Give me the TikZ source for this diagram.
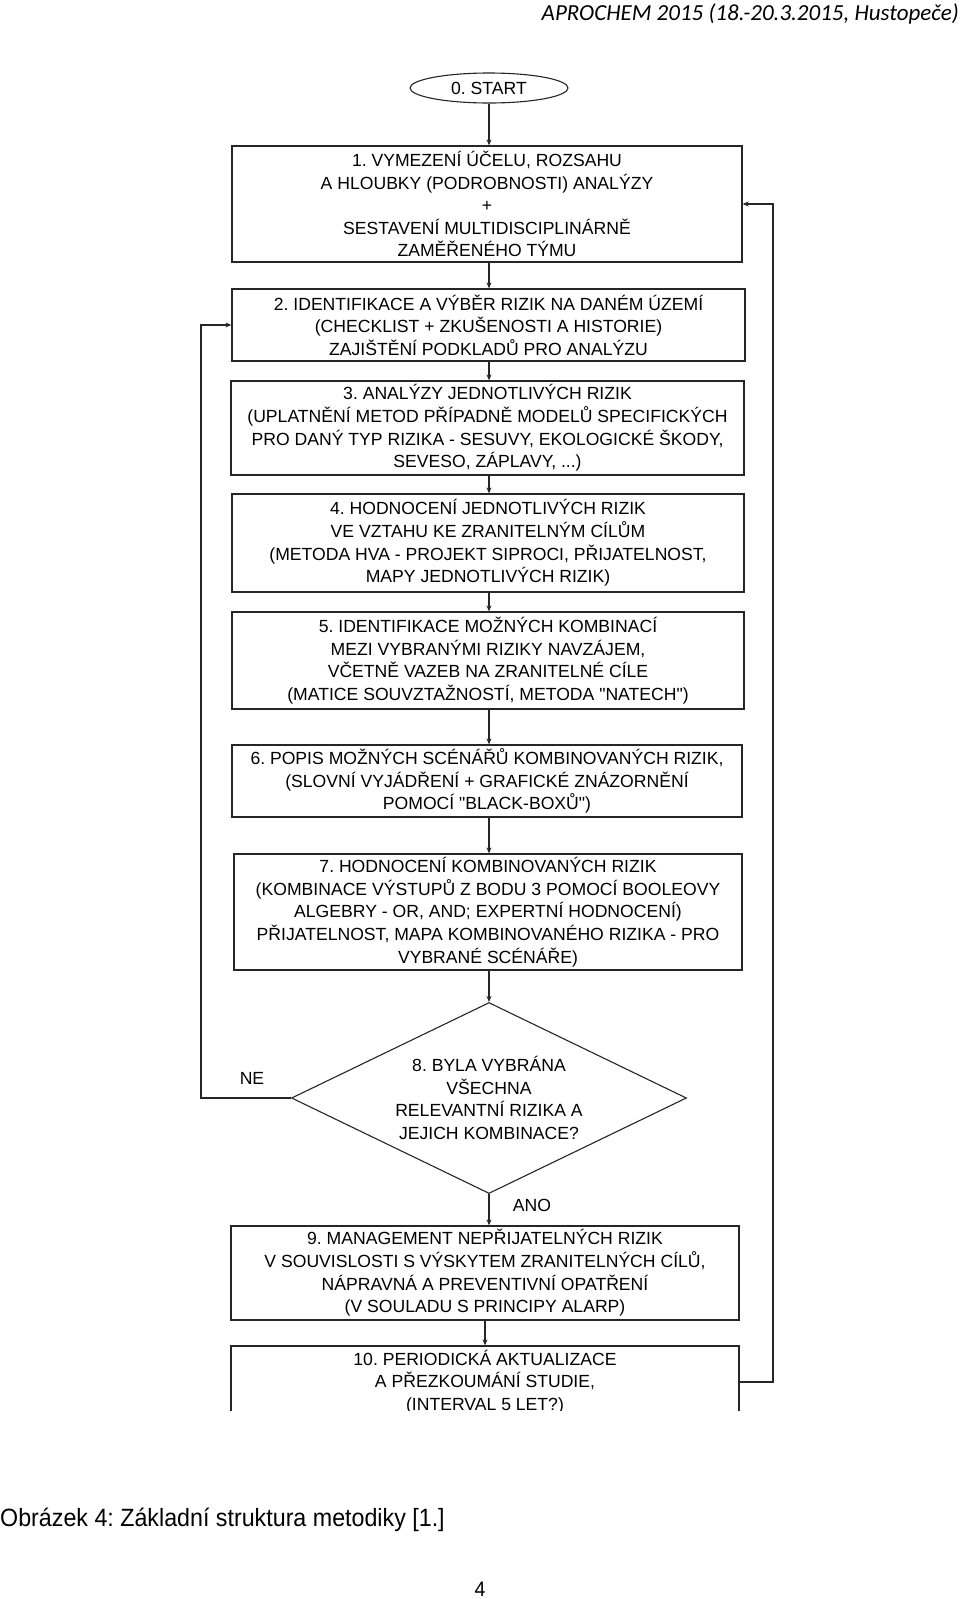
\documentclass[tikz,border=0pt]{standalone}
\usepackage{fontspec}
\setmainfont{Liberation Sans}
\newfontfamily\boxfont{Liberation Sans}
\newfontfamily\capfont[FakeStretch=0.93]{Liberation Sans}
\newfontfamily\hdrfont{Carlito}
\usetikzlibrary{shapes.geometric,arrows.meta}
\frenchspacing
\begin{document}
\begin{tikzpicture}[x=1pt,y=-1pt,
  stepbox/.style={draw=black!85,line width=1.3pt,rectangle,inner sep=0pt,align=center,
     font=\boxfont\fontsize{17.6}{22.6}\selectfont},
  lbl/.style={font=\boxfont\fontsize{17.6}{22.6}\selectfont,inner sep=0pt},
  arr/.style={draw=black!85,line width=1.1pt,-{Stealth[length=6pt,width=5pt]}},
  lin/.style={draw=black!85,line width=1.1pt}]
\fill[white] (0,0) rectangle (960,1599);
\useasboundingbox (0,0) rectangle (960,1599);

\node[anchor=base east,inner sep=0pt,font=\hdrfont\itshape\fontsize{23}{26}\selectfont] (hdr) at (959,20.5) {APROCHEM 2015 (18.-20.3.2015, Hustopeče)};

\begin{scope}
\clip (0,0) rectangle (960,1410);
\node[draw=black!85,line width=1.1pt,ellipse,minimum width=158pt,minimum height=30pt,inner sep=0pt,
  font=\boxfont\fontsize{17.6}{22.6}\selectfont] (start) at (489,88) {0. START};

\node[stepbox,minimum width=510pt,minimum height=116pt] (b1) at (487,204)
 {1. VYMEZENÍ ÚČELU, ROZSAHU\\A HLOUBKY (PODROBNOSTI) ANALÝZY\\+\\SESTAVENÍ MULTIDISCIPLINÁRNĚ\\ZAMĚŘENÉHO TÝMU};
\node[stepbox,minimum width=513pt,minimum height=72pt] (b2) at (488.5,325)
 {2. IDENTIFIKACE A VÝBĚR RIZIK NA DANÉM ÚZEMÍ\\(CHECKLIST + ZKUŠENOSTI A HISTORIE)\\ZAJIŠTĚNÍ PODKLADŮ PRO ANALÝZU};
\node[stepbox,minimum width=513pt,minimum height=94pt] (b3) at (487.5,428)
 {3. ANALÝZY JEDNOTLIVÝCH RIZIK\\(UPLATNĚNÍ METOD PŘÍPADNĚ MODELŮ SPECIFICKÝCH\\PRO DANÝ TYP RIZIKA - SESUVY, EKOLOGICKÉ ŠKODY,\\SEVESO, ZÁPLAVY, ...)};
\node[stepbox,minimum width=512pt,minimum height=98pt] (b4) at (488,543)
 {4. HODNOCENÍ JEDNOTLIVÝCH RIZIK\\VE VZTAHU KE ZRANITELNÝM CÍLŮM\\(METODA HVA - PROJEKT SIPROCI, PŘIJATELNOST,\\MAPY JEDNOTLIVÝCH RIZIK)};
\node[stepbox,minimum width=512pt,minimum height=97pt] (b5) at (488,660.5)
 {5. IDENTIFIKACE MOŽNÝCH KOMBINACÍ\\MEZI VYBRANÝMI RIZIKY NAVZÁJEM,\\VČETNĚ VAZEB NA ZRANITELNÉ CÍLE\\(MATICE SOUVZTAŽNOSTÍ, METODA \symbol{34}NATECH\symbol{34})};
\node[stepbox,minimum width=510pt,minimum height=72pt] (b6) at (487,781)
 {6. POPIS MOŽNÝCH SCÉNÁŘŮ KOMBINOVANÝCH RIZIK,\\(SLOVNÍ VYJÁDŘENÍ + GRAFICKÉ ZNÁZORNĚNÍ\\POMOCÍ \symbol{34}BLACK-BOXŮ\symbol{34})};
\node[stepbox,minimum width=508pt,minimum height=116pt] (b7) at (488,912)
 {7. HODNOCENÍ KOMBINOVANÝCH RIZIK\\(KOMBINACE VÝSTUPŮ Z BODU 3 POMOCÍ BOOLEOVY\\ALGEBRY - OR, AND; EXPERTNÍ HODNOCENÍ)\\PŘIJATELNOST, MAPA KOMBINOVANÉHO RIZIKA - PRO\\VYBRANÉ SCÉNÁŘE)};
\node[stepbox,diamond,line width=1.1pt,aspect=2.07,minimum width=395pt,minimum height=191pt] (d8) at (489,1098)
 {8. BYLA VYBRÁNA\\VŠECHNA\\RELEVANTNÍ RIZIKA A\\JEJICH KOMBINACE?};
\node[stepbox,minimum width=508pt,minimum height=94pt] (b9) at (485,1273)
 {9. MANAGEMENT NEPŘIJATELNÝCH RIZIK\\V SOUVISLOSTI S VÝSKYTEM ZRANITELNÝCH CÍLŮ,\\NÁPRAVNÁ A PREVENTIVNÍ OPATŘENÍ\\(V SOULADU S PRINCIPY ALARP)};
\node[stepbox,minimum width=508pt,minimum height=72pt] (b10) at (485,1382)
 {10. PERIODICKÁ AKTUALIZACE\\A PŘEZKOUMÁNÍ STUDIE,\\(INTERVAL 5 LET?)};

\draw[arr] (start.south) -- (start.south |- b1.north);
\draw[arr] (b1.south -| start.south) -- (start.south |- b2.north);
\draw[arr] (b2.south -| start.south) -- (start.south |- b3.north);
\draw[arr] (b3.south -| start.south) -- (start.south |- b4.north);
\draw[arr] (b4.south -| start.south) -- (start.south |- b5.north);
\draw[arr] (b5.south -| start.south) -- (start.south |- b6.north);
\draw[arr] (b6.south -| start.south) -- (start.south |- b7.north);
\draw[arr] (b7.south -| start.south) -- (d8.north);
\draw[arr] (d8.south) -- (d8.south |- b9.north);
\draw[arr] (b9.south) -- (b10.north);

\coordinate (ll) at (201,1098);
\draw[arr] (d8.west) -- (ll) |- (b2.west);
\coordinate (rl) at (773,1382);
\draw[arr] (b10.east) -- (rl) |- (b1.east);

\node[lbl] (ne) at (252,1078) {NE};
\node[lbl] (ano) at (532,1205) {ANO};
\end{scope}

\node[anchor=base west,inner sep=0pt,font=\capfont\fontsize{25}{28}\selectfont] (cap) at (0,1526)
 {Obrázek 4: Základní struktura metodiky [1.]};
\node[anchor=base,inner sep=0pt,font=\capfont\fontsize{21}{24}\selectfont] (pg) at (480,1596) {4};
\end{tikzpicture}
\end{document}
